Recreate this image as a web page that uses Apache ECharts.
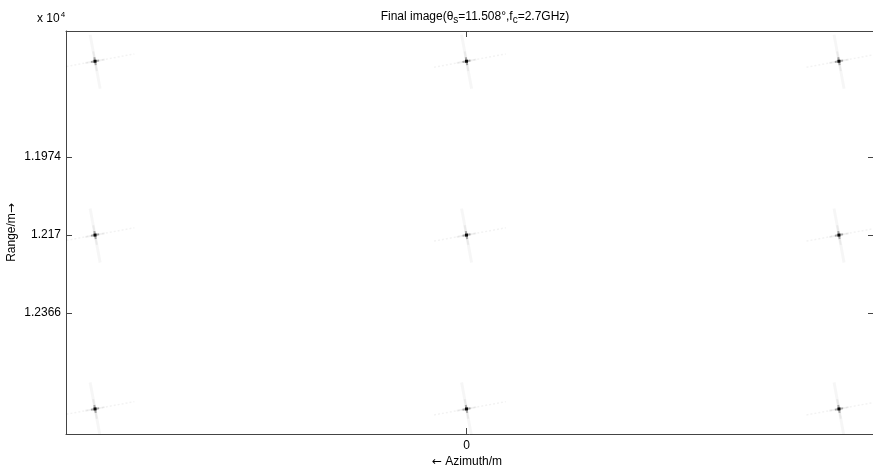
<!DOCTYPE html>
<html><head><meta charset="utf-8">
<script src="https://cdn.jsdelivr.net/npm/echarts@6/dist/echarts.min.js"></script>
<style>html,body{margin:0;padding:0;background:#fff}#c{width:873px;height:469px}</style>
</head><body><div id="c"></div>
<script>
// Target positions (azimuth in m, range in m)
const targetAzimuth = [-371, 0, 372, -371, 0, 372, -371, 0, 372];
const targetRange   = [11733, 11733, 11733, 12170, 12170, 12170, 12607, 12607, 12607];
const rangeTicks = [11974, 12170, 12366];
const azimuthTicks = [0];
const xMin = -400, xMax = 407;
const yMin = 11657, yMax = 12670;

const data = targetAzimuth.map((a, i) => [a, targetRange[i]]);
const F = 'Liberation Sans, Arial, sans-serif';
const ang = -10.5 * Math.PI / 180; // squint rotation

function renderItem(params, api) {
  const p = api.coord([api.value(0), api.value(1)]);
  const cx = p[0], cy = p[1];
  const c = Math.cos(ang), s = Math.sin(ang);
  function rot(x, y) { return [cx + x * c - y * s, cy + x * s + y * c]; }
  const v1 = rot(0, -27), v2 = rot(0, 28);
  const h1 = rot(-33, 0), h2 = rot(40, 0);
  const vi1 = rot(0, -10), vi2 = rot(0, 10);
  const hi1 = rot(-10, 0), hi2 = rot(10, 0);
  const a1 = rot(-4, 0), a2 = rot(4, 0), b1 = rot(0, -4), b2 = rot(0, 4);
  return {
    type: 'group',
    children: [
      { type: 'line', shape: { x1: v1[0], y1: v1[1], x2: v2[0], y2: v2[1] },
        style: { stroke: 'rgba(0,0,0,0.035)', lineWidth: 3 } },
      { type: 'line', shape: { x1: vi1[0], y1: vi1[1], x2: vi2[0], y2: vi2[1] },
        style: { stroke: 'rgba(0,0,0,0.05)', lineWidth: 2 } },
      { type: 'line', shape: { x1: h1[0], y1: h1[1], x2: h2[0], y2: h2[1] },
        style: { stroke: 'rgba(0,0,0,0.05)', lineWidth: 1.5, lineDash: [2, 2] } },
      { type: 'line', shape: { x1: hi1[0], y1: hi1[1], x2: hi2[0], y2: hi2[1] },
        style: { stroke: 'rgba(0,0,0,0.05)', lineWidth: 2 } },
      { type: 'line', shape: { x1: a1[0], y1: a1[1], x2: a2[0], y2: a2[1] },
        style: { stroke: 'rgba(0,0,0,0.3)', lineWidth: 2 } },
      { type: 'line', shape: { x1: b1[0], y1: b1[1], x2: b2[0], y2: b2[1] },
        style: { stroke: 'rgba(0,0,0,0.3)', lineWidth: 2 } },
      { type: 'rect', shape: { x: cx - 1.5, y: cy - 1.5, width: 3, height: 3 }, style: { fill: 'rgba(0,0,0,0.9)' } }
    ]
  };
}

const chart = echarts.init(document.getElementById('c'), null, { renderer: 'canvas' });
const axisLineStyle = { color: '#444', width: 1 };
const arrowStyle = { fontFamily: 'DejaVu Sans', fontSize: 12, color: '#000' };
chart.setOption({
  animation: false,
  backgroundColor: '#fff',
  title: {
    text: '{n|Final image(θ}{sub|s}{n|=11.508°,f}{sub|c}{n|=2.7GHz)}',
    left: 470, top: 3, textAlign: 'center',
    textStyle: { fontWeight: 'normal', rich: {
      n: { fontFamily: F, fontSize: 12, color: '#000', fontWeight: 'normal' },
      sub: { fontFamily: F, fontSize: 10, color: '#000', fontWeight: 'normal', verticalAlign: 'bottom', padding: [7, 0, 0, 0] }
    } }
  },
  graphic: [{
    type: 'text', left: 37, top: 11,
    style: { text: '{n|x 10}{sup|4}', rich: {
      n: { fontFamily: F, fontSize: 12, fill: '#000' },
      sup: { fontFamily: F, fontSize: 8, fill: '#000', verticalAlign: 'top', padding: [0, 0, 8, 1] }
    } }
  }],
  grid: { left: 66, top: 31, right: -1, bottom: 35, show: false, outerBoundsMode: 'none', containLabel: false },
  xAxis: [{
    type: 'value', min: xMin, max: xMax, position: 'bottom',
    name: '{a|←} {n|Azimuth/m}', nameLocation: 'middle', nameGap: 22, nameMoveOverlap: false,
    nameTextStyle: { fontFamily: F, fontSize: 12, color: '#000', padding: [0, 0, 0, -6],
      rich: { a: arrowStyle, n: { fontFamily: F, fontSize: 12, color: '#000' } } },
    axisLine: { show: true, onZero: false, lineStyle: axisLineStyle },
    axisTick: { show: true, inside: true, length: 6, customValues: azimuthTicks, lineStyle: axisLineStyle },
    axisLabel: { customValues: azimuthTicks, fontFamily: F, fontSize: 12, color: '#000', margin: 6 },
    splitLine: { show: false }
  }, {
    type: 'value', min: xMin, max: xMax, position: 'top',
    axisLine: { show: true, onZero: false, lineStyle: axisLineStyle },
    axisTick: { show: true, inside: true, length: 6, customValues: azimuthTicks, lineStyle: axisLineStyle },
    axisLabel: { show: false }, splitLine: { show: false }
  }],
  yAxis: [{
    type: 'value', min: yMin, max: yMax, inverse: true, position: 'left',
    name: '{n|Range/m}{a|→}', nameLocation: 'middle', nameGap: 48, nameRotate: 90, nameMoveOverlap: false,
    nameTextStyle: { fontFamily: F, fontSize: 12, color: '#000',
      rich: { a: arrowStyle, n: { fontFamily: F, fontSize: 12, color: '#000' } } },
    axisLine: { show: true, onZero: false, lineStyle: axisLineStyle },
    axisTick: { show: true, inside: true, length: 6, customValues: rangeTicks, lineStyle: axisLineStyle },
    axisLabel: { customValues: rangeTicks, fontFamily: F, fontSize: 12, color: '#000', margin: 5,
      formatter: v => String(+(v / 1e4).toFixed(4)) },
    splitLine: { show: false }
  }, {
    type: 'value', min: yMin, max: yMax, inverse: true, position: 'right',
    axisLine: { show: true, onZero: false, lineStyle: axisLineStyle },
    axisTick: { show: true, inside: true, length: 6, customValues: rangeTicks, lineStyle: axisLineStyle },
    axisLabel: { show: false }, splitLine: { show: false }
  }],
  series: [{
    type: 'custom', renderItem: renderItem, data: data,
    xAxisIndex: 0, yAxisIndex: 0, clip: true, silent: true
  }]
});
</script></body></html>
